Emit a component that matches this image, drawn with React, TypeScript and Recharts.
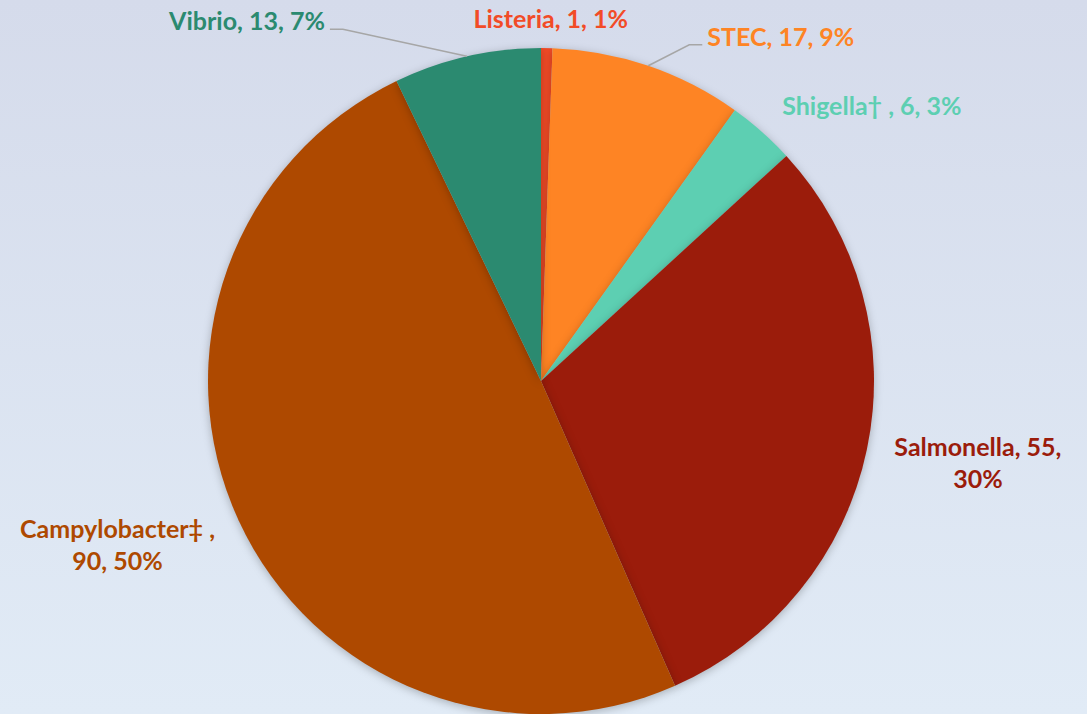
import { PieChart, Pie, Cell } from "recharts";

const NAMES = ["Listeria", "STEC", "Shigella†", "Salmonella", "Campylobacter‡", "Vibrio"];
const VALUES = [1, 17, 6, 55, 90, 13];
const PCTS = ["1%", "9%", "3%", "30%", "50%", "7%"];

const COLORS = ["#f24b27", "#fe8424", "#5dcfb2", "#9b1c0b", "#ae4900", "#2b8a70"];

// label placement relative to the point on the rim at each slice's mid angle
const LABEL_STYLE: { dx: number; dy: number; anchor: "start" | "middle" | "end"; lines: number; leader: boolean }[] = [
  { dx: 4, dy: -30, anchor: "middle", lines: 1, leader: false },
  { dx: 59, dy: -30, anchor: "start", lines: 1, leader: true },
  { dx: 110, dy: -27, anchor: "middle", lines: 1, leader: false },
  { dx: 111, dy: 13, anchor: "middle", lines: 2, leader: false },
  { dx: -121, dy: 24, anchor: "middle", lines: 2, leader: false },
  { dx: -142, dy: -36, anchor: "end", lines: 1, leader: true },
];

const data = NAMES.map((name, i) => ({ name, value: VALUES[i], pct: PCTS[i] }));

const RAD = Math.PI / 180;
const FONT = "Lato, 'Open Sans', sans-serif";

function renderLabel(props: any) {
  const { cx, cy, midAngle, outerRadius, index } = props;
  const d = data[index];
  const s = LABEL_STYLE[index];
  const px = cx + outerRadius * Math.cos(-midAngle * RAD);
  const py = cy + outerRadius * Math.sin(-midAngle * RAD);
  const tx = px + s.dx;
  const ty = py + s.dy;
  const color = COLORS[index];
  const lineY = ty + 9;
  const side = s.anchor === "end" ? 1 : -1;
  return (
    <g key={`lbl-${index}`}>
      {s.leader && (
        <polyline
          points={`${px},${py} ${tx + side * 18},${lineY} ${tx + side * 5},${lineY}`}
          fill="none"
          stroke="#a6a6a6"
          strokeWidth={1.5}
        />
      )}
      {s.lines === 1 ? (
        <text x={tx} y={ty} textAnchor={s.anchor} dominantBaseline="central" fill={color}
          fontSize={25} fontWeight={700} fontFamily={FONT}>
          {`${d.name}${d.name.endsWith("†") ? " " : ""}, ${d.value}, ${d.pct}`}
        </text>
      ) : (
        <text x={tx} y={ty} textAnchor="middle" dominantBaseline="central" fill={color}
          fontSize={25} fontWeight={700} fontFamily={FONT}>
          <tspan x={tx} dy={-16}>{d.name.endsWith("‡") ? `${d.name} ,` : `${d.name}, ${d.value},`}</tspan>
          <tspan x={tx} dy={32}>{d.name.endsWith("‡") ? `${d.value}, ${d.pct}` : d.pct}</tspan>
        </text>
      )}
    </g>
  );
}

export default function App() {
  return (
    <div
      style={{
        position: "absolute",
        left: 0,
        top: 0,
        width: 1087,
        height: 714,
        background: "linear-gradient(to bottom, #d5dbeb 0%, #e1ebf6 100%)",
      }}
    >
      <PieChart width={1087} height={714} margin={{ top: 0, right: 0, bottom: 0, left: 0 }}>
        <Pie
          data={data}
          dataKey="value"
          nameKey="name"
          cx={541}
          cy={381}
          outerRadius={333}
          startAngle={90}
          endAngle={-270}
          stroke="none"
          label={renderLabel}
          labelLine={false}
          isAnimationActive={false}
          style={{ filter: "drop-shadow(0px 2px 4px rgba(0,0,0,0.25))" }}
        >
          {data.map((d, i) => (
            <Cell key={d.name} fill={COLORS[i]} />
          ))}
        </Pie>
      </PieChart>
    </div>
  );
}
